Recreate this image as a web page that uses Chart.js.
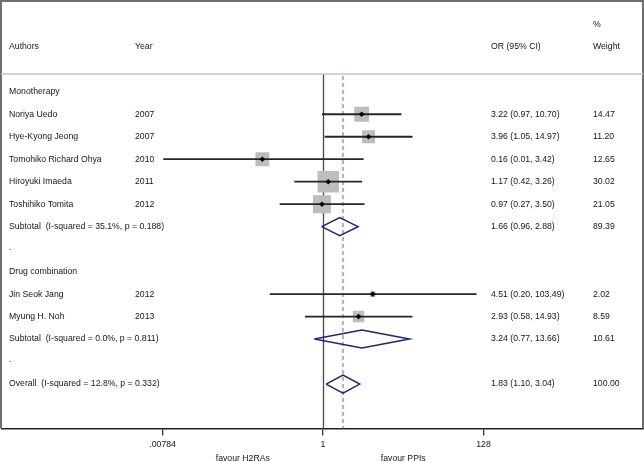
<!DOCTYPE html>
<html><head><meta charset="utf-8">
<script src="https://cdn.jsdelivr.net/npm/chart.js@4/dist/chart.umd.min.js"></script>
<style>html,body{margin:0;padding:0;background:#fff}#wrap{width:644px;height:462px;position:relative}</style>
</head><body><div id="wrap"><canvas id="c" width="644" height="462"></canvas></div>
<script>
// ---- data ----
const authors = ["Noriya Uedo","Hye-Kyong Jeong","Tomohiko Richard Ohya","Hiroyuki Imaeda","Toshihiko Tomita","Jin Seok Jang","Myung H. Noh"];
const years = ["2007","2007","2010","2011","2012","2012","2013"];
const studyOR = [3.22, 3.96, 0.16, 1.17, 0.97, 4.51, 2.93];
const studyLo = [0.97, 1.05, 0.008, 0.42, 0.27, 0.20, 0.58];
const studyHi = [10.70, 14.97, 3.42, 3.26, 3.50, 103.49, 14.93];
const studyCIText = ["3.22 (0.97, 10.70)","3.96 (1.05, 14.97)","0.16 (0.01, 3.42)","1.17 (0.42, 3.26)","0.97 (0.27, 3.50)","4.51 (0.20, 103.49)","2.93 (0.58, 14.93)"];
const studyWeight = [14.47, 11.20, 12.65, 30.02, 21.05, 2.02, 8.59];
const studyRows = [2, 3, 4, 5, 6, 10, 11];

const pooledLabels = ["Subtotal  (I-squared = 35.1%, p = 0.188)","Subtotal  (I-squared = 0.0%, p = 0.811)","Overall  (I-squared = 12.8%, p = 0.332)"];
const pooledOR = [1.66, 3.24, 1.83];
const pooledLo = [0.96, 0.77, 1.10];
const pooledHi = [2.88, 13.66, 3.04];
const pooledCIText = ["1.66 (0.96, 2.88)","3.24 (0.77, 13.66)","1.83 (1.10, 3.04)"];
const pooledWeight = [89.39, 10.61, 100.00];
const pooledRows = [7, 12, 14];

const groupLabels = ["Monotherapy","Drug combination"];
const groupRows = [1, 9];
const spacerRows = [8, 13];

const headerTop = ["", "", "", "%"];
const headerCols = ["Authors","Year","OR (95% CI)","Weight"];
const tickValues = [0.00784, 1, 128];
const tickLabels = [".00784", "1", "128"];
const sideLabels = ["favour H2RAs", "favour PPIs"];
const sideLabelAt = [Math.pow(2,-3.5), Math.pow(2,3.5)];

// ---- styling ----
const FONT = '8.7px "Liberation Sans", Arial, Helvetica, sans-serif';
const TXT = '#161616';
const colX = [9, 135, 491, 593];
const NAVY = '#1d2672';
const boxScale = 2.76; // radius per sqrt(weight)

const datasets = [];
// weight boxes
datasets.push({
  data: studyOR.map((v,i)=>({x:v, y:studyRows[i]})),
  pointStyle:'rect',
  pointRadius: studyWeight.map(w=>boxScale*Math.sqrt(w)),
  backgroundColor:'#bdbdbd', borderWidth:0, showLine:false, order:5
});
// CI lines
studyOR.forEach((v,i)=>{
  datasets.push({
    data:[{x:studyLo[i], y:studyRows[i]},{x:studyHi[i], y:studyRows[i]}],
    showLine:true, borderColor:'#262626', borderWidth:1.8, pointRadius:0, order:3
  });
});
// point estimates
datasets.push({
  data: studyOR.map((v,i)=>({x:v, y:studyRows[i]})),
  pointStyle:'rectRot', pointRadius:2.8, backgroundColor:'#000', borderWidth:0, showLine:false, order:1
});
// pooled diamonds
const dh = 0.4;
pooledOR.forEach((v,i)=>{
  const r = pooledRows[i];
  datasets.push({
    data:[{x:pooledLo[i],y:r},{x:v,y:r-dh},{x:pooledHi[i],y:r},{x:v,y:r+dh},{x:pooledLo[i],y:r}],
    showLine:true, borderColor:NAVY, borderWidth:1.5, pointRadius:0, fill:false, tension:0, order:1
  });
});

const forestPlugin = {
  id:'forest',
  beforeDatasetsDraw(chart){
    const {ctx, chartArea:a, scales:{x}} = chart;
    ctx.save();
    // line of no effect
    const x1 = Math.round(x.getPixelForValue(1))+0.5;
    ctx.strokeStyle='#4a4a4a'; ctx.lineWidth=1.3;
    ctx.beginPath(); ctx.moveTo(x1,a.top); ctx.lineTo(x1,a.bottom); ctx.stroke();
    // overall estimate line
    const xo = x.getPixelForValue(pooledOR[2]);
    ctx.strokeStyle='#a8506a'; ctx.lineWidth=1; ctx.setLineDash([4,3]);
    ctx.beginPath(); ctx.moveTo(xo,a.top+2); ctx.lineTo(xo,a.bottom); ctx.stroke();
    ctx.restore();
  },
  afterDraw(chart){
    const {ctx, chartArea:a, scales:{x,y}} = chart;
    ctx.save();
    // frame
    ctx.strokeStyle='#6e6e6e'; ctx.lineWidth=2;
    ctx.beginPath();
    ctx.moveTo(1,a.bottom); ctx.lineTo(1,1); ctx.lineTo(643,1); ctx.lineTo(643,a.bottom);
    ctx.stroke();
    // header separator
    ctx.strokeStyle='#c4c4c4'; ctx.lineWidth=1.5;
    ctx.beginPath(); ctx.moveTo(1,a.top); ctx.lineTo(643,a.top); ctx.stroke();
    // texts
    ctx.font=FONT; ctx.fillStyle=TXT; ctx.textBaseline='middle'; ctx.textAlign='left';
    const py = r => y.getPixelForValue(r);
    headerTop.forEach((t,i)=>{ if(t) ctx.fillText(t,colX[i],py(-2)); });
    headerCols.forEach((t,i)=>ctx.fillText(t,colX[i],py(-1)));
    groupLabels.forEach((t,i)=>ctx.fillText(t,colX[0],py(groupRows[i])));
    spacerRows.forEach(r=>ctx.fillText('.',colX[0],py(r)-2));
    authors.forEach((t,i)=>{
      const yy = py(studyRows[i]);
      ctx.fillText(t,colX[0],yy);
      ctx.fillText(years[i],colX[1],yy);
      ctx.fillText(studyCIText[i],colX[2],yy);
      ctx.fillText(studyWeight[i].toFixed(2),colX[3],yy);
    });
    pooledLabels.forEach((t,i)=>{
      const yy = py(pooledRows[i]);
      ctx.fillText(t,colX[0],yy);
      ctx.fillText(pooledCIText[i],colX[2],yy);
      ctx.fillText(pooledWeight[i].toFixed(2),colX[3],yy);
    });
    // side labels under axis
    ctx.textAlign='center';
    sideLabels.forEach((t,i)=>ctx.fillText(t,x.getPixelForValue(sideLabelAt[i]),a.bottom+30));
    ctx.restore();
  }
};

new Chart(document.getElementById('c'), {
  type:'scatter',
  data:{datasets},
  options:{
    responsive:false, animation:false, devicePixelRatio:1,
    layout:{autoPadding:false, padding:{top:74,left:2,right:0,bottom:8}},
    plugins:{legend:{display:false}, tooltip:{enabled:false}},
    scales:{
      x:{
        type:'logarithmic', min:Math.pow(2,-14), max:Math.pow(2,14), position:'bottom',
        afterBuildTicks: ax => { ax.ticks = tickValues.map(v=>({value:v})); },
        grid:{display:true, drawOnChartArea:false, drawTicks:true, tickLength:7, color:'#333', lineWidth:1.3},
        border:{display:true, color:'#222', width:1.5},
        ticks:{autoSkip:false, maxRotation:0, minRotation:0, padding:4, color:TXT,
          font:{family:'"Liberation Sans", Arial, sans-serif', size:8.7},
          callback:(v)=>{ const k = tickValues.findIndex(t=>Math.abs(t-v)/t<1e-6); return k>=0?tickLabels[k]:''; }}
      },
      y:{type:'linear', reverse:true, min:0.21, max:15.98, display:false}
    }
  },
  plugins:[forestPlugin]
});
</script>
</body></html>
